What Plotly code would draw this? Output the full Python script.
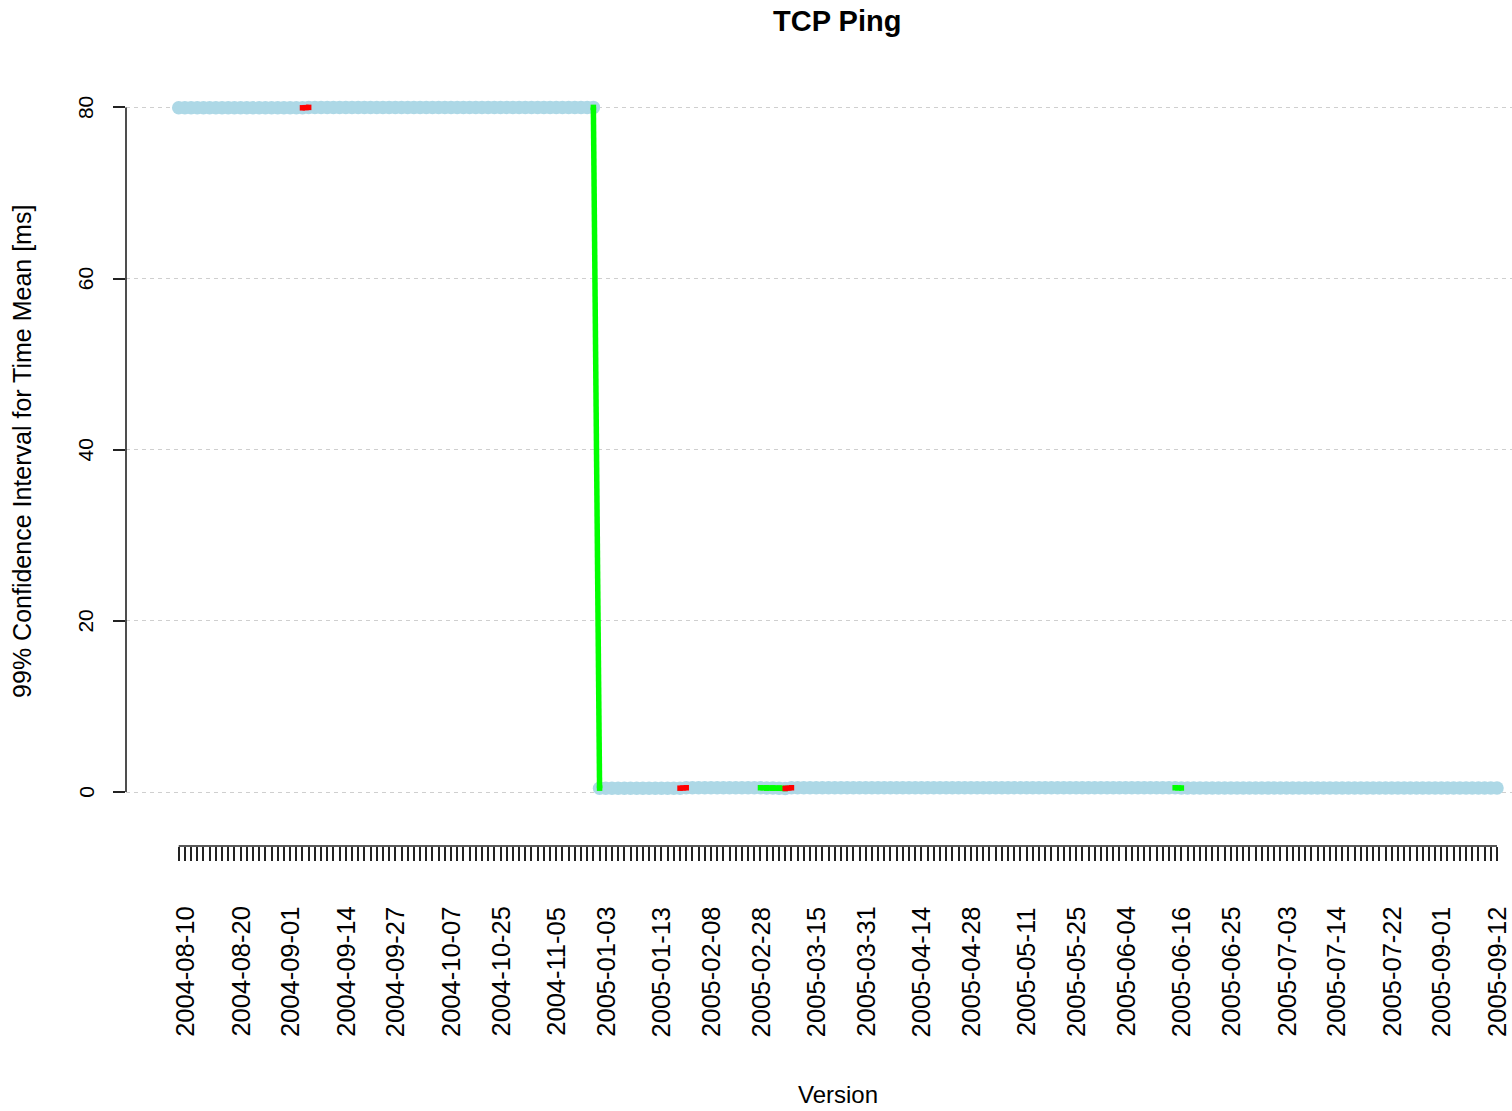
import plotly.graph_objects as go

# ---- data -------------------------------------------------------------
# build dates printed under the axis (one every few builds)
label_dates = [
    "2004-08-10", "2004-08-20", "2004-09-01", "2004-09-14", "2004-09-27",
    "2004-10-07", "2004-10-25", "2004-11-05", "2005-01-03", "2005-01-13",
    "2005-02-08", "2005-02-28", "2005-03-15", "2005-03-31", "2005-04-14",
    "2005-04-28", "2005-05-11", "2005-05-25", "2005-06-04", "2005-06-16",
    "2005-06-25", "2005-07-03", "2005-07-14", "2005-07-22", "2005-09-01",
    "2005-09-12",
]
# build index (0-based) at which each date label sits
label_index = [1, 10, 18, 27, 35, 44, 52, 61, 69, 78, 86, 94, 103, 111, 120,
               128, 137, 145, 153, 162, 170, 179, 187, 196, 204, 213]

# mean ping time per build [ms], written as runs of equal readings
ping_ms = ([79.95] * 21 + [80.0] * 47 + [0.45] * 14 + [0.5] * 13
           + [0.48, 0.46, 0.44, 0.42] + [0.5] * 63 + [0.47] * 52)

# build steps (i -> i+1) with a significant change of the CI
improved_steps = [67, 94, 95, 96, 97, 161]
regressed_steps = [20, 81, 98]

n_builds = len(ping_ms)
builds = list(range(n_builds))

# ---- geometry (pixels of the 1512x1111 page) ---------------------------
W, H = 1512, 1111
PLOT_L, PLOT_R = 126.3, 1512
PLOT_T, PLOT_B = 79.6, 846          # bottom edge carries the build ticks
X_FIRST, X_LAST = 179, 1497          # pixel of first / last build
Y_ZERO, Y_TOP = 792, 107             # pixel of 0 ms / 80 ms

ppi = (X_LAST - X_FIRST) / (n_builds - 1)
ppu = (Y_ZERO - Y_TOP) / 80.0
x_range = [-(X_FIRST - PLOT_L) / ppi, (n_builds - 1) + (PLOT_R - X_LAST) / ppi]
y_range = [-(PLOT_B - Y_ZERO) / ppu, 80 + (Y_TOP - PLOT_T) / ppu]


def paper_x(px):
    return (px - PLOT_L) / (PLOT_R - PLOT_L)


def paper_y(py):
    return (PLOT_B - py) / (PLOT_B - PLOT_T)


FONT = "Liberation Sans, Arial, Helvetica, sans-serif"


def step_segments(steps):
    xs, ys = [], []
    for i in steps:
        xs += [builds[i], builds[i + 1], None]
        ys += [ping_ms[i], ping_ms[i + 1], None]
    return xs, ys


fig = go.Figure()

# one dot per build
fig.add_trace(go.Scatter(
    x=builds, y=ping_ms, mode="markers",
    marker=dict(size=13.5, color="#ADD8E6", line=dict(width=0)),
    hoverinfo="skip", showlegend=False,
))

# significant improvements (green) and regressions (red)
for steps, col in ((improved_steps, "#00FF00"), (regressed_steps, "#FF0000")):
    sx, sy = step_segments(steps)
    fig.add_trace(go.Scatter(
        x=sx, y=sy, mode="lines+markers",
        line=dict(color=col, width=5.5),
        marker=dict(size=5.5, color=col, symbol="square", line=dict(width=0)),
        hoverinfo="skip", showlegend=False,
    ))

annotations = [
    dict(text="<b>TCP Ping</b>", xref="paper", yref="paper",
         x=paper_x(837), y=paper_y(21), xanchor="center", yanchor="middle",
         showarrow=False, font=dict(family=FONT, size=29, color="black")),
    dict(text="99% Confidence Interval for Time Mean [ms]", xref="paper",
         yref="paper", x=paper_x(23), y=paper_y(451), textangle=-90,
         xanchor="center", yanchor="middle", showarrow=False,
         font=dict(family=FONT, size=25, color="black")),
    dict(text="Version", xref="paper", yref="paper",
         x=paper_x(838), y=paper_y(1095), xanchor="center", yanchor="middle",
         showarrow=False, font=dict(family=FONT, size=24, color="black")),
]
for v in (0, 20, 40, 60, 80):
    annotations.append(dict(
        text=str(v), xref="paper", yref="y", x=paper_x(86), y=v,
        textangle=-90, xanchor="center", yanchor="middle", showarrow=False,
        font=dict(family=FONT, size=21, color="black")))
for idx, d in zip(label_index, label_dates):
    annotations.append(dict(
        text=d, xref="x", yref="paper", x=builds[idx], y=paper_y(905),
        textangle=-90, xanchor="center", yanchor="top", showarrow=False,
        font=dict(family=FONT, size=25.5, color="black")))

shapes = [
    # left axis line, spanning 0..80 only
    dict(type="line", xref="paper", yref="y", x0=0, x1=0, y0=0, y1=80,
         line=dict(color="#222222", width=1.6)),
    # bottom axis line, spanning first..last build
    dict(type="line", xref="x", yref="paper", x0=builds[0], x1=builds[-1],
         y0=0, y1=0, line=dict(color="#222222", width=1.6)),
]

fig.update_layout(
    width=W, height=H,
    margin=dict(l=PLOT_L, r=W - PLOT_R, t=PLOT_T, b=H - PLOT_B, pad=0),
    paper_bgcolor="white", plot_bgcolor="white",
    showlegend=False,
    annotations=annotations, shapes=shapes,
    xaxis=dict(
        range=x_range, showgrid=False, zeroline=False, showline=False,
        tickmode="array", tickvals=builds, showticklabels=False,
        ticks="outside", ticklen=14, tickwidth=1.6, tickcolor="#222222",
    ),
    yaxis=dict(
        range=y_range, zeroline=False, showline=False,
        tickmode="array", tickvals=[0, 20, 40, 60, 80], showticklabels=False,
        ticks="outside", ticklen=12, tickwidth=1.6, tickcolor="#222222",
        showgrid=True, gridcolor="#CFCFCF", gridwidth=1, griddash="4px,4px",
        layer="above traces",
    ),
)

fig.write_html("out.html")
